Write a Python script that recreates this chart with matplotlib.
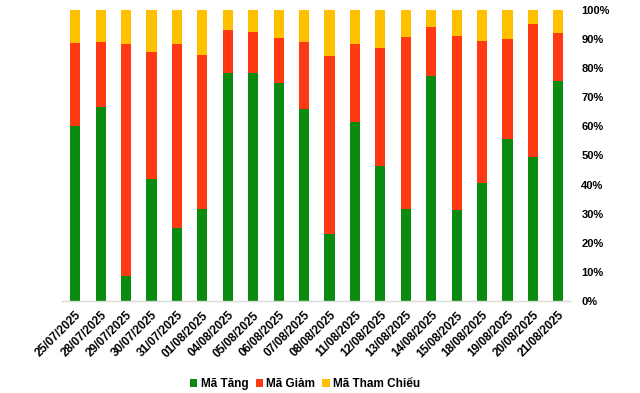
import numpy as np
import matplotlib
matplotlib.use("Agg")
import matplotlib.pyplot as plt
from matplotlib.ticker import FuncFormatter

plt.rcParams['font.family'] = ['Liberation Sans', 'DejaVu Sans']

dates = ['25/07/2025', '28/07/2025', '29/07/2025', '30/07/2025', '31/07/2025',
         '01/08/2025', '04/08/2025', '05/08/2025', '06/08/2025', '07/08/2025',
         '08/08/2025', '11/08/2025', '12/08/2025', '13/08/2025', '14/08/2025',
         '15/08/2025', '18/08/2025', '19/08/2025', '20/08/2025', '21/08/2025']

# percentages
tang = [60.2, 66.7, 8.7, 41.9, 25.1, 31.6, 78.4, 78.4, 74.9, 66.0,
        23.0, 61.5, 46.5, 31.6, 77.3, 31.3, 40.5, 55.7, 49.5, 75.6]
giam = [28.5, 22.3, 79.6, 43.7, 63.2, 52.9, 14.7, 14.0, 15.5, 23.0,
        61.2, 26.8, 40.4, 59.1, 16.9, 59.8, 48.8, 34.3, 45.7, 16.5]
tham_chieu = [100 - a - b for a, b in zip(tang, giam)]

fig = plt.figure(figsize=(6.4, 3.93), dpi=100)
ax = fig.add_axes([0.097, 0.234, 0.794, 0.741])

x = np.arange(len(dates))
w = 0.4
ax.bar(x, tang, w, color='#0B8A10', label='Mã Tăng')
ax.bar(x, giam, w, bottom=tang, color='#FF3A12', label='Mã Giảm')
ax.bar(x, tham_chieu, w, bottom=np.array(tang) + np.array(giam),
       color='#FFC000', label='Mã Tham Chiếu')

ax.set_xlim(-0.52, 19.47)
ax.set_ylim(0, 100)
ax.set_yticks(np.arange(0, 101, 10))
ax.yaxis.set_major_formatter(FuncFormatter(lambda v, p: f'{v:.0f}%'))
ax.yaxis.tick_right()
ax.tick_params(axis='y', length=0, pad=8, labelsize=8)
ax.tick_params(axis='x', length=0, pad=6, labelsize=8.5)
for lab in ax.get_yticklabels():
    lab.set_fontweight('bold')

ax.set_xticks(x)
ax.set_xticklabels(dates, rotation=45, ha='right', rotation_mode='anchor',
                   fontweight='bold')

for s in ['top', 'left', 'right']:
    ax.spines[s].set_visible(False)
ax.spines['bottom'].set_color('#D9D9D9')
ax.spines['bottom'].set_linewidth(1)

fig.legend(loc='lower center', bbox_to_anchor=(0.477, -0.02), ncol=3,
           frameon=False, handlelength=0.6, handleheight=0.6,
           handletextpad=0.3, columnspacing=0.6,
           prop={'weight': 'bold', 'size': 8.5})

fig.savefig('out.png', dpi=100)
